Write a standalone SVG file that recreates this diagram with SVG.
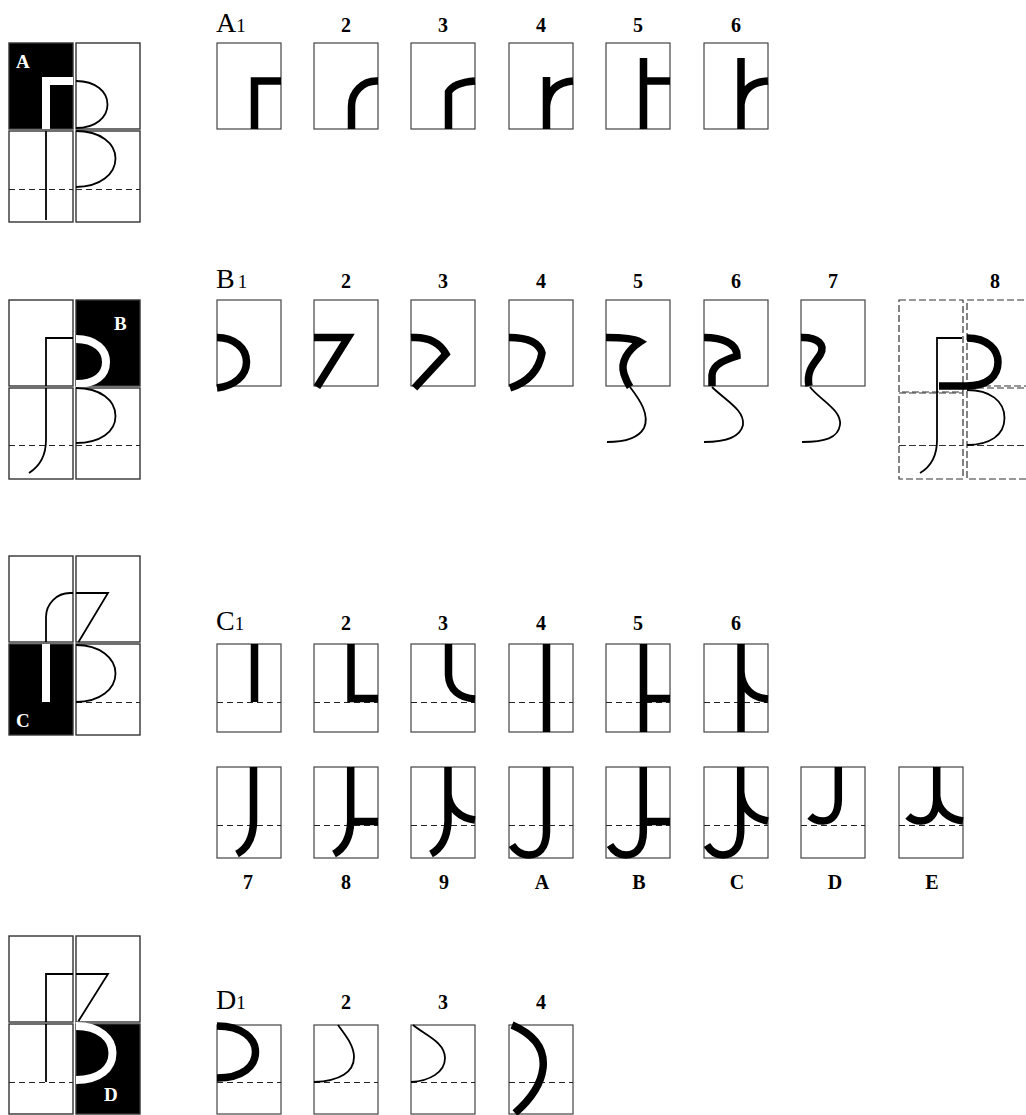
<svg xmlns="http://www.w3.org/2000/svg" width="1026" height="1115" viewBox="0 0 1026 1115">
<style>
.bg{fill:#fff}
.box{fill:#fff;stroke:#444;stroke-width:1.2}
.pan{fill:#fff;stroke:#333;stroke-width:1.4}
.blk{fill:#000;stroke:#333;stroke-width:1.4}
.dash{fill:none;stroke:#222;stroke-width:1.2;stroke-dasharray:6 4}
.pdash{fill:none;stroke:#333;stroke-width:1.2;stroke-dasharray:7 3}
.thick{fill:none;stroke:#000;stroke-width:7.5;stroke-linejoin:miter;stroke-miterlimit:10}
.thin{fill:none;stroke:#000;stroke-width:1.8}
.wthick{fill:none;stroke:#fff;stroke-width:8;stroke-linejoin:miter}
.lbl{font-family:"Liberation Serif",serif;font-size:20px;font-weight:bold;text-anchor:middle;fill:#000}
.big{font-family:"Liberation Serif",serif;font-size:28px;fill:#000}
.one{font-size:19px}
.wl{font-family:"Liberation Serif",serif;font-size:19px;font-weight:bold;fill:#fff}
</style>
<rect class="bg" x="0" y="0" width="1026" height="1115"/>

<!-- Composite A -->
<g id="composite-A">
<rect class="blk" x="9" y="43" width="64" height="86"/>
<rect class="pan" x="76" y="43" width="64" height="86"/>
<rect class="pan" x="9" y="131" width="64" height="91"/>
<rect class="pan" x="76" y="131" width="64" height="91"/>
<path class="wthick" d="M46,129 V81 H73"/>
<text class="wl" x="16" y="68">A</text>
<path class="thin" d="M76,81 C96,81 107.5,92 107.5,104.5 C107.5,117 96,128 76,128"/>
<line class="dash" x1="9" y1="189.5" x2="73" y2="189.5"/>
<line class="dash" x1="76" y1="189.5" x2="140" y2="189.5"/>
<path class="thin" d="M46,131 V220"/>
<path class="thin" d="M76,131 C100,131 115.5,143 115.5,158.5 C115.5,174 100,187 76,187"/>
</g>

<!-- Row A -->
<g id="label-A"><text class="big" x="216" y="32">A<tspan class="one">1</tspan></text>
<text class="lbl" x="346" y="32">2</text><text class="lbl" x="443" y="32">3</text><text class="lbl" x="541" y="32">4</text><text class="lbl" x="638" y="32">5</text><text class="lbl" x="736" y="32">6</text></g>
<g id="cell-A1"><rect class="box" x="217" y="43" width="64" height="86"/><path class="thick" d="M254.5,129 V81 H281"/></g>
<g id="cell-A2"><rect class="box" x="314" y="43" width="64" height="86"/><path class="thick" d="M351.5,129 V106 A25,25 0 0 1 376.5,81 H378"/></g>
<g id="cell-A3"><rect class="box" x="411" y="43" width="64" height="86"/><path class="thick" d="M448.5,129 V92 C452,86 462,82 475,81"/></g>
<g id="cell-A4"><rect class="box" x="509" y="43" width="64" height="86"/><path class="thick" d="M546.5,129 V77 M546.5,106 C548,90 558,82 573,81"/></g>
<g id="cell-A5"><rect class="box" x="606" y="43" width="64" height="86"/><path class="thick" d="M643.5,129 V58 M643.5,81 H670"/></g>
<g id="cell-A6"><rect class="box" x="704" y="43" width="64" height="86"/><path class="thick" d="M741,129 V58 M741,104 C743,89 752,82 768,81"/></g>

<!-- Composite B -->
<g id="composite-B">
<rect class="pan" x="9" y="300" width="64" height="86"/>
<rect class="blk" x="76" y="300" width="64" height="86"/>
<rect class="pan" x="9" y="388" width="64" height="91"/>
<rect class="pan" x="76" y="388" width="64" height="91"/>
<path class="thin" d="M46,386 V338 H73"/>
<path class="wthick" d="M76,339 C96,339 106,350 106,362 C106,375 96,384 76,384"/>
<text class="wl" x="114" y="330">B</text>
<line class="dash" x1="9" y1="445.5" x2="73" y2="445.5"/>
<line class="dash" x1="76" y1="445.5" x2="140" y2="445.5"/>
<path class="thin" d="M46,388 V440 C46,456 40,466 29,473"/>
<path class="thin" d="M76,388 C100,388 115.5,400 115.5,416 C115.5,432 100,443 76,443"/>
</g>

<!-- Row B -->
<g id="label-B"><text class="big" x="216" y="288">B<tspan class="one" dx="3">1</tspan></text>
<text class="lbl" x="346" y="288">2</text><text class="lbl" x="443" y="288">3</text><text class="lbl" x="541" y="288">4</text><text class="lbl" x="638" y="288">5</text><text class="lbl" x="736" y="288">6</text><text class="lbl" x="833" y="288">7</text><text class="lbl" x="995" y="288">8</text></g>
<g id="cell-B1"><rect class="box" x="217" y="300" width="64" height="86"/><path class="thick" d="M217,337.5 C234,337.5 246.5,348 246.5,362 C246.5,376 234,386 217,388"/></g>
<g id="cell-B2"><rect class="box" x="314" y="300" width="64" height="86"/><path class="thick" d="M314,337.5 H348 L317,387"/></g>
<g id="cell-B3"><rect class="box" x="411" y="300" width="64" height="86"/><path class="thick" d="M411,337.5 Q436,336 446,354 L414.5,388"/></g>
<g id="cell-B4"><rect class="box" x="509" y="300" width="64" height="86"/><path class="thick" d="M509,337.5 C528,337.5 539,342 542,353 C539,370 528,382 510,388"/></g>
<g id="cell-B5"><rect class="box" x="606" y="300" width="64" height="86"/>
<path class="thick" d="M606,337.5 C624,337.5 635,339 640,342 C628,350 620,362 624,374 C626,380 628,384 630,387"/>
<path class="thin" d="M630,387 C640,400 650,415 644,428 C639,437 626,442 607,442"/></g>
<g id="cell-B6"><rect class="box" x="704" y="300" width="64" height="86"/>
<path class="thick" d="M704,337.5 C722,337.5 737,343 737,356 C725,360 713,364 712,375 L712,386"/>
<path class="thin" d="M712,387 C725,400 745,410 743,425 C740,438 725,442 704,442"/></g>
<g id="cell-B7"><rect class="box" x="801" y="300" width="64" height="86"/>
<path class="thick" d="M801,337.5 C818,337 826,345 820,355 C815,363 806,370 809,386"/>
<path class="thin" d="M810,387 C820,400 842,410 840,425 C838,438 825,442 802,442"/></g>
<g id="cell-B8">
<rect class="pdash" x="899" y="300" width="64" height="92"/>
<rect class="pdash" x="967" y="300" width="64" height="86"/>
<rect class="pdash" x="899" y="393" width="64" height="86"/>
<rect class="pdash" x="967" y="388" width="64" height="91"/>
<line class="pdash" x1="899" y1="445.5" x2="963" y2="445.5"/>
<line class="pdash" x1="967" y1="445.5" x2="1026" y2="445.5"/>
<path class="thin" d="M962,338 H937 V440 C937,455 932,466 920,473"/>
<path class="thick" d="M967,338 C988,338 998,350 998,362 C998,376 988,386 966,386 H939"/>
<path class="thin" d="M967,390 C990,390 1004.5,401 1004.5,418 C1004.5,435 990,445 967,445"/>
</g>

<!-- Composite C -->
<g id="composite-C">
<rect class="pan" x="9" y="556" width="64" height="86"/>
<rect class="pan" x="76" y="556" width="64" height="86"/>
<rect class="blk" x="9" y="644" width="64" height="91"/>
<rect class="pan" x="76" y="644" width="64" height="91"/>
<path class="thin" d="M46,642 V617 A24,24 0 0 1 70,593 H73"/>
<path class="thin" d="M76,593 H108 L78.5,642"/>
<path class="wthick" d="M46,644 V702"/>
<text class="wl" x="16" y="727">C</text>
<line class="dash" x1="76" y1="702.5" x2="140" y2="702.5"/>
<path class="thin" d="M76,645 C100,645 115.5,658 115.5,673.5 C115.5,689 100,702 76,702"/>
</g>

<!-- Row C -->
<g id="label-C"><text class="big" x="216" y="630">C<tspan class="one">1</tspan></text>
<text class="lbl" x="346" y="630">2</text><text class="lbl" x="443" y="630">3</text><text class="lbl" x="541" y="630">4</text><text class="lbl" x="638" y="630">5</text><text class="lbl" x="736" y="630">6</text></g>
<g id="cell-C1"><rect class="box" x="217" y="644" width="64" height="88"/><line class="dash" x1="217" y1="702.5" x2="281" y2="702.5"/><path class="thick" d="M254.5,644 V702"/></g>
<g id="cell-C2"><rect class="box" x="314" y="644" width="64" height="88"/><line class="dash" x1="314" y1="702.5" x2="378" y2="702.5"/><path class="thick" d="M351,644 V698.5 H378"/></g>
<g id="cell-C3"><rect class="box" x="411" y="644" width="64" height="88"/><line class="dash" x1="411" y1="702.5" x2="475" y2="702.5"/><path class="thick" d="M448.5,644 V675 C449,690 460,698 475,699"/></g>
<g id="cell-C4"><rect class="box" x="509" y="644" width="64" height="88"/><line class="dash" x1="509" y1="702.5" x2="573" y2="702.5"/><path class="thick" d="M546.5,644 V732"/></g>
<g id="cell-C5"><rect class="box" x="606" y="644" width="64" height="88"/><line class="dash" x1="606" y1="702.5" x2="670" y2="702.5"/><path class="thick" d="M643.5,644 V732 M643.5,698.5 H670"/></g>
<g id="cell-C6"><rect class="box" x="704" y="644" width="64" height="88"/><line class="dash" x1="704" y1="702.5" x2="768" y2="702.5"/><path class="thick" d="M741,644 V732 M741,672 C742,688 752,698 768,699"/></g>

<g id="cell-C7"><rect class="box" x="217" y="767" width="64" height="91"/><line class="dash" x1="217" y1="825.5" x2="281" y2="825.5"/><path class="thick" d="M253.5,767 V822 C253,838 248,848 237,854"/></g>
<g id="cell-C8"><rect class="box" x="314" y="767" width="64" height="91"/><line class="dash" x1="314" y1="825.5" x2="378" y2="825.5"/><path class="thick" d="M350.7,767 V822 C350,838 345,848 334,854 M350.7,821.5 H378"/></g>
<g id="cell-C9"><rect class="box" x="411" y="767" width="64" height="91"/><line class="dash" x1="411" y1="825.5" x2="475" y2="825.5"/><path class="thick" d="M448,767 V822 C447,838 442,848 431,854 M448,794 C449,808 460,818 475,820"/></g>
<g id="cell-CA"><rect class="box" x="509" y="767" width="64" height="91"/><line class="dash" x1="509" y1="825.5" x2="573" y2="825.5"/><path class="thick" d="M546.5,767 V832 C546,849 538,855 529,855 C521,855 515,850 512,845"/></g>
<g id="cell-CB"><rect class="box" x="606" y="767" width="64" height="91"/><line class="dash" x1="606" y1="825.5" x2="670" y2="825.5"/><path class="thick" d="M643.3,767 V832 C643,849 635,855 626,855 C618,855 613,850 610,845 M643.3,821.5 H670"/></g>
<g id="cell-CC"><rect class="box" x="704" y="767" width="64" height="91"/><line class="dash" x1="704" y1="825.5" x2="768" y2="825.5"/><path class="thick" d="M740.7,767 V832 C740,849 732,855 723,855 C715,855 710,850 707,845 M740.7,792 C742,808 752,818 768,821"/></g>
<g id="cell-CD"><rect class="box" x="801" y="767" width="64" height="91"/><line class="dash" x1="801" y1="825.5" x2="865" y2="825.5"/><path class="thick" d="M838.3,767 V800 C838,814 832,821 823,821 C818,821 813,819 810,816"/></g>
<g id="cell-CE"><rect class="box" x="899" y="767" width="64" height="91"/><line class="dash" x1="899" y1="825.5" x2="963" y2="825.5"/><path class="thick" d="M936.7,767 V800 C936,814 930,821 921,821 C916,821 911,819 908,816 M936.7,796 C938,810 948,819 963,821"/></g>
<g id="label-C2"><text class="lbl" x="248" y="889">7</text><text class="lbl" x="346" y="889">8</text><text class="lbl" x="444" y="889">9</text><text class="lbl" x="542" y="889">A</text><text class="lbl" x="639" y="889">B</text><text class="lbl" x="737" y="889">C</text><text class="lbl" x="835" y="889">D</text><text class="lbl" x="932" y="889">E</text></g>

<!-- Composite D -->
<g id="composite-D">
<rect class="pan" x="9" y="936" width="64" height="86"/>
<rect class="pan" x="76" y="936" width="64" height="86"/>
<rect class="pan" x="9" y="1024" width="64" height="90"/>
<rect class="blk" x="76" y="1024" width="64" height="90"/>
<path class="thin" d="M46,1022 V974 H73"/>
<path class="thin" d="M76,974 H108 L78.5,1021"/>
<path class="thin" d="M46,1024 V1082"/>
<line class="dash" x1="9" y1="1082.5" x2="73" y2="1082.5"/>
<path class="wthick" d="M76,1026 C100,1026 112.5,1039 112.5,1053 C112.5,1068 100,1080 76,1080"/>
<text class="wl" x="104" y="1101">D</text>
</g>

<!-- Row D -->
<g id="label-D"><text class="big" x="216" y="1009">D<tspan class="one">1</tspan></text>
<text class="lbl" x="346" y="1009">2</text><text class="lbl" x="443" y="1009">3</text><text class="lbl" x="541" y="1009">4</text></g>
<g id="cell-D1"><rect class="box" x="217" y="1025" width="64" height="89"/><line class="dash" x1="217" y1="1082.5" x2="281" y2="1082.5"/><path class="thick" d="M217,1026 C243,1026 255.5,1039 255.5,1052 C255.5,1066 243,1078 217,1078"/></g>
<g id="cell-D2"><rect class="box" x="314" y="1025" width="64" height="89"/><line class="dash" x1="314" y1="1082.5" x2="378" y2="1082.5"/><path class="thin" d="M338,1025 C345,1035 354,1045 354,1057 C354,1072 340,1081 314,1082"/></g>
<g id="cell-D3"><rect class="box" x="411" y="1025" width="64" height="89"/><line class="dash" x1="411" y1="1082.5" x2="475" y2="1082.5"/><path class="thin" d="M413,1025 C425,1035 445,1042 445,1058 C445,1072 430,1081 411,1082"/></g>
<g id="cell-D4"><rect class="box" x="509" y="1025" width="64" height="89"/><line class="dash" x1="509" y1="1082.5" x2="573" y2="1082.5"/><path class="thick" d="M512,1025 C535,1035 545,1050 543,1068 C541,1085 530,1100 515,1113"/></g>
</svg>
